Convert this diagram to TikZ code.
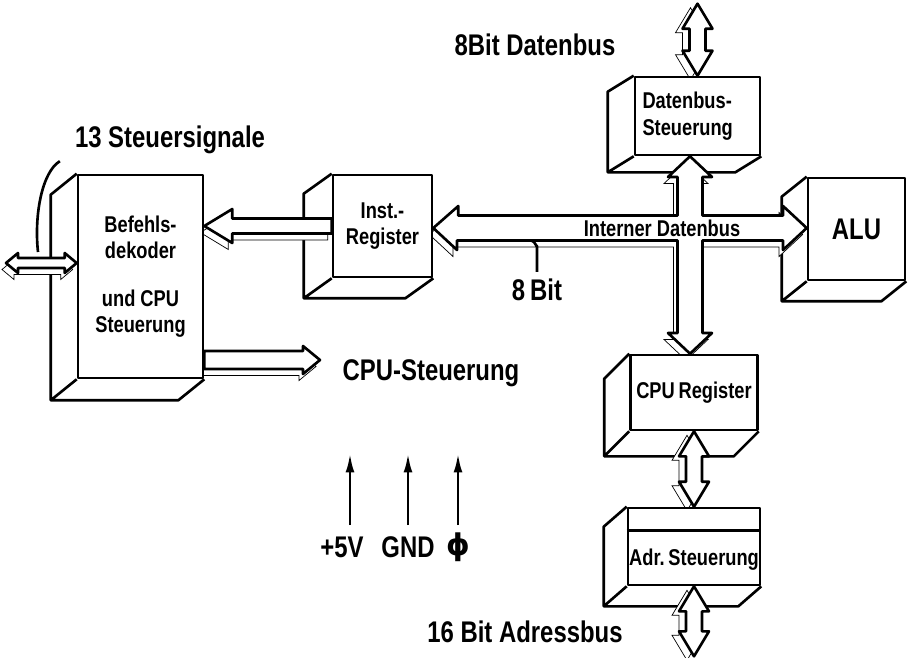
\documentclass[tikz,border=0pt]{standalone}
\usepackage{fontspec}
\setmainfont[FakeStretch=0.8]{Liberation Sans}
\newfontfamily\phifont{DejaVu Sans}
\usetikzlibrary{calc,arrows.meta}
\pgfdeclarelayer{hinten}
\pgfdeclarelayer{mitte}
\pgfsetlayers{hinten,mitte,main}

\begin{document}
\begin{tikzpicture}[x=0.02cm, y=-0.02cm, line width=1.5pt, line join=round]
	\tikzset{baustein/.style={draw, fill=white, inner sep=0pt, align=center, font=\bfseries\fontsize{13}{15}\selectfont},
		klein/.style={font=\bfseries\fontsize{13}{15}\selectfont},
		gross/.style={font=\bfseries\fontsize{17}{20}\selectfont},
		kante/.style={line width=1.5pt, line join=round},
		bus/.style={kante, draw, fill=white, preaction={draw, fill=white, transform canvas={shift={(-0.08cm,-0.13cm)}}}},
		busv/.style={kante, draw, fill=white, preaction={draw, fill=white, transform canvas={shift={(-0.14cm,-0.08cm)}}}},
		pfeil/.style={-{Latex[length=11pt,width=5pt]}, line width=1.6pt}}
	\useasboundingbox (0,0) rectangle (910,657);
	
	\node[baustein, minimum width=2.5cm, minimum height=4.06cm] (bd) at (140.5,276.5) {Befehls-\\dekoder\\[12pt]und CPU\\Steuerung};
	\node[baustein, minimum width=1.98cm, minimum height=2.04cm] (ir) at (382.5,226) {Inst.-\\Register};
	\node[baustein, minimum width=2.5cm, minimum height=1.56cm, align=left, text width=2.2cm] (ds) at (697.5,116) {Datenbus-\\Steuerung};
	\node[baustein, minimum width=1.94cm, minimum height=2.04cm, gross] (alu) at (856.5,229) {ALU};
	\node[baustein, minimum width=2.54cm, minimum height=1.5cm] (cr) at (694,392.5) {CPU\,Register};
	\node[baustein, minimum width=2.64cm, minimum height=1.54cm] (as) at (694,546.5) {};
	\draw[kante] ($(as.north west)+(0,24)$) -- ($(as.north east)+(0,24)$);
	\node[klein] (ast) at ($(as.south)+(0,-27)$) {Adr.\,Steuerung};
	
	\node[gross] (ss) at (170,140) {13 Steuersignale};
	\node[gross] (db8) at (535,45) {8Bit Datenbus};
	\node[gross] (achtbit) at (537,290) {8\,Bit};
	\node[gross] (cs) at (431,373) {CPU-Steuerung};
	\node[gross] (adr16) at (525,632) {16 Bit Adressbus};
	
	% Seitenflaechen der Bausteine
	\begin{pgfonlayer}{hinten}
		\foreach \n/\dx/\dy in {bd/-26/21, ir/-28/20, ds/-26/16, alu/-25/20, cr/-25/25, as/-23/20}
			\draw[kante] (\n.north west) -- ++(\dx,\dy) |- ($(\n.south east)+(\dx,\dy)$) -- (\n.south east) (\n.south west) -- ++(\dx,\dy);
	\end{pgfonlayer}
	
	\coordinate (kreuz) at (690,228);
	\coordinate (oben) at ($(ds.north)+(0,-72)$);
	\coordinate (unten) at ($(as.south)+(0,70)$);
	\coordinate (links) at (6,263);
	\coordinate (steuer) at (320,360);
	
	\begin{pgfonlayer}{mitte}
		% interner Datenbus
		\draw[bus] (ir.east |- kreuz) -- ++(25,-22) -- ++(0,9.5) -- (677.5,215.5) -- (677.5,177) -- (668,177) -- (ds.south -| kreuz) -- (712,177) -- (702.5,177) -- (702.5,215.5) -- (783,215.5) -- (783,206) -- (alu.west |- kreuz) -- (783,250) -- (783,240.5) -- (702.5,240.5) -- (702.5,333) -- (712,333) -- (cr.north -| kreuz) -- (668,333) -- (677.5,333) -- (677.5,240.5) -- (457,240.5) -- (457,250) -- cycle;
		\draw[bus] (bd.east |- ir.west) -- ++(28,-17) -- ++(0,9.5) -- ($(ir.west)+(0,-7.5)$) -- ($(ir.west)+(0,7.5)$) -- ($(bd.east |- ir.west)+(28,7.5)$) -- ++(0,9.5) -- cycle;
		\draw[bus] ($(bd.east |- steuer)+(0,-9)$) -- ($(steuer)+(-17,-9)$) -- ++(0,-5) -- (steuer) -- ++(-17,14) -- ++(0,-5) -- ($(bd.east |- steuer)+(0,9)$) -- cycle;
		\draw[kante] (ss.south west) ++(-8,0) .. controls (42,172) and (34,215) .. (38,252);
		\draw[bus] (links) -- ++(12,-10) -- ++(0,5) -- ($(bd.west |- links)+(-12,-5)$) -- ++(0,-5) -- (bd.west |- links) -- ++(-12,10) -- ++(0,-5) -- ($(links)+(12,5)$) -- ++(0,5) -- cycle;
		\foreach \a/\b in {oben/ds.north, cr.south/as.north, as.south/unten}
			\draw[busv] (\a) -- ($(\a)+(15,25)$) -- ($(\a)+(8,25)$) -- ($(\b)+(8,-25)$) -- ($(\b)+(15,-25)$) -- (\b) -- ($(\b)+(-15,-25)$) -- ($(\b)+(-8,-25)$) -- ($(\a)+(-8,25)$) -- ($(\a)+(-15,25)$) -- cycle;
	\end{pgfonlayer}
	
	\node[klein] (intern) at (662,228) {Interner Datenbus};
	\draw[kante] (achtbit.north) -- ++(0,-26) to[out=-90,in=0] ++(-5,-5);
	
	\node[gross] (p5) at (342,547) {+5V};
	\node[gross] (gnd) at (408,547) {GND};
	\node[gross] (phi) at (458,547) {\phifont ϕ};
	\foreach \p/\dx in {p5/8, gnd/0, phi/0}
		\draw[pfeil] ($(\p)+(\dx,-22)$) -- ++(0,-72);
\end{tikzpicture}
\end{document}
